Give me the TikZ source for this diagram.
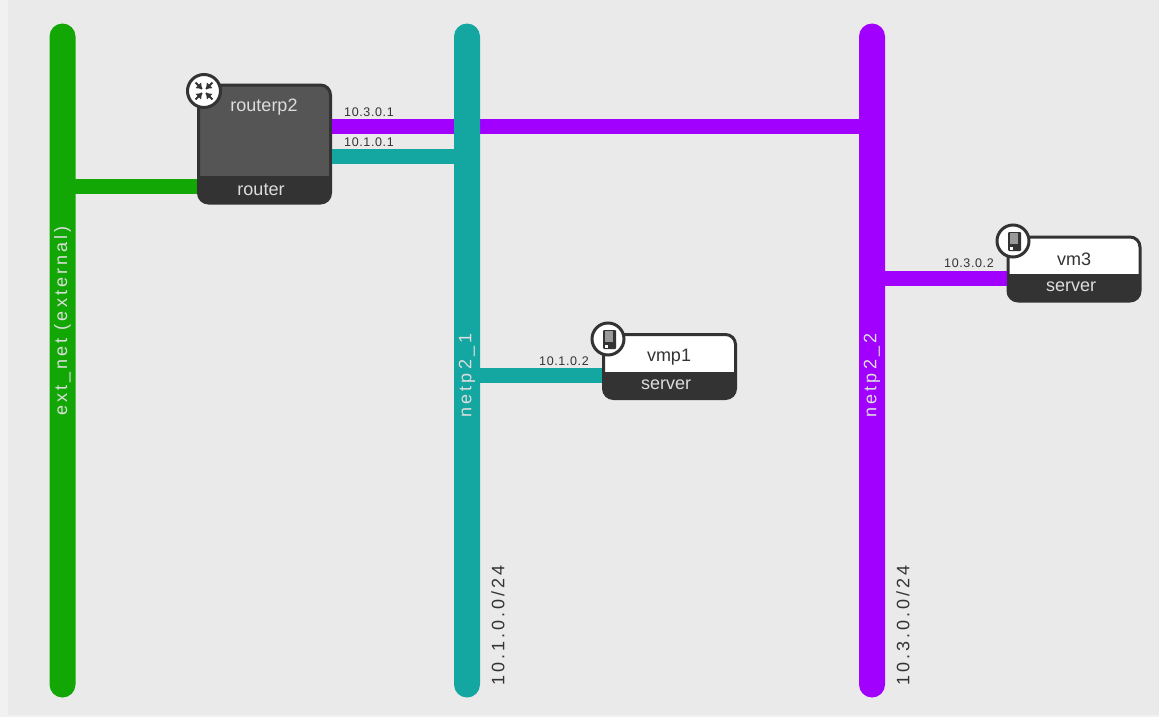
\documentclass[tikz,border=0pt]{standalone}
\usepackage{fontspec}
\setmainfont{Liberation Sans}
\usepackage{xcolor}
\usetikzlibrary{positioning}
\definecolor{topoPage}{HTML}{F1F1F1}
\definecolor{topoPanel}{HTML}{EAEAEA}
\definecolor{topoGreen}{HTML}{12A705}
\definecolor{topoTeal}{HTML}{14A6A0}
\definecolor{topoPurple}{HTML}{A100FF}
\definecolor{topoDark}{HTML}{333333}
\definecolor{topoGrey}{HTML}{555555}
\definecolor{topoLabel}{HTML}{DDDDDD}
\newfontfamily\spacedfont[LetterSpace=17]{Liberation Sans}
\newfontfamily\ipfont[LetterSpace=5]{Liberation Sans}
\tikzset{
  netBar/.style={
    minimum width=26pt,
    minimum height=674pt,
    rounded corners=13pt,
    inner sep=0pt,
    outer sep=0pt
  },
  netLink/.style={
    line width=15pt
  },
  netName/.style={
    rotate=90,
    font=\fontsize{18}{18}\spacedfont,
    text=topoLabel,
    inner sep=0pt
  },
  netCidr/.style={
    rotate=90,
    anchor=west,
    font=\fontsize{18}{18}\spacedfont,
    text=topoDark,
    inner sep=0pt
  },
  ipLabel/.style={
    font=\fontsize{12.5}{13}\ipfont,
    text=topoDark,
    inner sep=0pt
  },
  devLabel/.style={
    font=\fontsize{18}{18}\selectfont,
    inner sep=0pt
  },
  routerBox/.style={
    draw=topoDark,
    fill=topoGrey,
    line width=3pt,
    rounded corners=10pt,
    minimum width=132pt,
    minimum height=118pt,
    inner sep=0pt,
    outer sep=1.5pt,
    path picture={
      \fill[topoDark, sharp corners] ([yshift=27pt]path picture bounding box.south west)
        rectangle (path picture bounding box.south east);
    }
  },
  serverBox/.style={
    draw=topoDark,
    fill=white,
    line width=3pt,
    rounded corners=10pt,
    minimum width=132pt,
    minimum height=64pt,
    inner sep=0pt,
    outer sep=1.5pt,
    path picture={
      \fill[topoDark, sharp corners] ([yshift=27pt]path picture bounding box.south west)
        rectangle (path picture bounding box.south east);
    }
  },
  iconDisc/.style={
    circle,
    draw=topoDark,
    fill=white,
    line width=3pt,
    minimum size=32pt,
    inner sep=0pt
  }
}
\newcommand{\servericon}[1]{
  \fill[topoDark, rounded corners=1pt] ([shift={(-5pt,9pt)}]#1.center) rectangle ([shift={(8pt,-10pt)}]#1.center);
  \fill[topoGrey!60!white] ([shift={(-3.5pt,8pt)}]#1.center) rectangle ([shift={(5pt,-3pt)}]#1.center);
  \fill[white] ([shift={(-3pt,-6pt)}]#1.center) rectangle ([shift={(0pt,-8.5pt)}]#1.center);
}
\begin{document}
\begin{tikzpicture}[x=1pt,y=-1pt]
\useasboundingbox (0,0) rectangle (1159,717);
\fill[topoPage] (0,0) rectangle (1159,717);
\fill[topoPanel] (8,0) rectangle (1159,715);

\node[netBar, fill=topoGreen] (extnet) at (62.5,360.5) {};
\node[netBar, fill=topoPurple] (netptwo) at (872,360.5) {};

\node[routerBox] (routerp2) at (264.5,144) {};
\node[serverBox] (vm3) at (1074,269) {};
\node[serverBox] (vmp1) at (669.5,366.5) {};

% links behind the teal bar
\coordinate (portext) at ([yshift=18pt]routerp2.south west);
\coordinate (portpurple) at ([yshift=-43pt]routerp2.north east);
\coordinate (portteal) at ([yshift=-73pt]routerp2.north east);
\draw[netLink, topoGreen] (portext) -- (portext -| extnet);
\draw[netLink, topoPurple] (portpurple) -- (portpurple -| netptwo);
\coordinate (portvmthree) at ([yshift=-9pt]vm3.west);
\draw[netLink, topoPurple] (portvmthree) -- (portvmthree -| netptwo);

\node[netBar, fill=topoTeal] (netpone) at (467,360.5) {};
\draw[netLink, topoTeal] (portteal) -- (portteal -| netpone);
\coordinate (portvmone) at ([yshift=-9pt]vmp1.west);
\draw[netLink, topoTeal] (portvmone) -- (portvmone -| netpone);

\node[netName] (extname) at (62.5,321) {ext\_net (external)};
\node[netName] (onename) at (467,375.5) {netp2\_1};
\node[netName] (twoname) at (872,375.5) {netp2\_2};
\node[netCidr] (onecidr) at (498,686) {10.1.0.0/24};
\node[netCidr] (twocidr) at (903,686) {10.3.0.0/24};

\node[ipLabel] (ipa) at (369,112) {10.3.0.1};
\node[ipLabel] (ipb) at (369,142) {10.1.0.1};
\node[ipLabel] (ipc) at (564,361) {10.1.0.2};
\node[ipLabel] (ipd) at (969,263) {10.3.0.2};

\node[devLabel, text=topoLabel] (routername) at (264,107) {routerp2};
\node[devLabel, text=topoLabel] (routertype) at (261,190) {router};
\node[devLabel, text=topoDark] (vmpname) at (669,357) {vmp1};
\node[devLabel, text=topoLabel] (vmptype) at (666,385) {server};
\node[devLabel, text=topoDark] (vmthreename) at (1074,259) {vm3};
\node[devLabel, text=topoLabel] (vmthreetype) at (1071,287) {server};

\node[iconDisc, minimum size=33pt] (routericon) at (204,91) {};
\foreach \ang in {45,135,225,315} {
  \draw[topoDark, line width=1.8pt] ([shift={(\ang:3pt)}]routericon.center) -- ([shift={(\ang:12pt)}]routericon.center);
  \fill[topoDark] ([shift={(\ang:3pt)}]routericon.center) -- ([shift={(\ang+26:9pt)}]routericon.center) -- ([shift={(\ang-26:9pt)}]routericon.center) -- cycle;
}
\node[iconDisc] (vmpicon) at (608,339) {};
\servericon{vmpicon}
\node[iconDisc] (vmthreeicon) at (1013,241) {};
\servericon{vmthreeicon}
\end{tikzpicture}
\end{document}
